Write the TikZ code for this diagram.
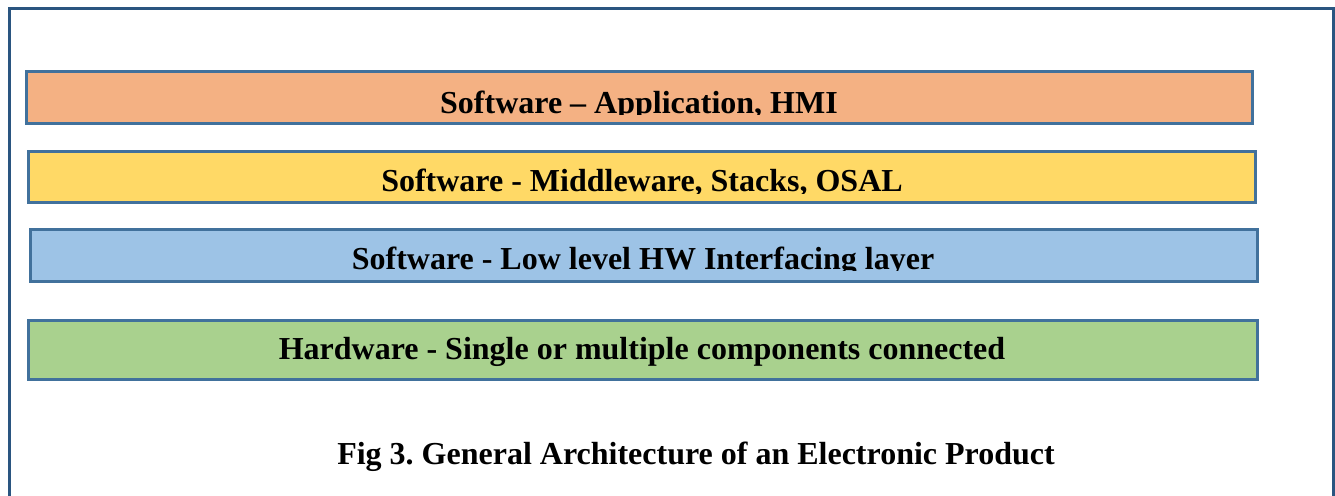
\documentclass[tikz,border=0pt]{standalone}
\usepackage{fontspec}
\setmainfont{Liberation Serif}
\usetikzlibrary{positioning}

\definecolor{framecol}{HTML}{2A5580}
\definecolor{edgecol}{HTML}{41719C}
\definecolor{apporange}{HTML}{F4B183}
\definecolor{midyellow}{HTML}{FFD966}
\definecolor{lowblue}{HTML}{9DC3E6}
\definecolor{hwgreen}{HTML}{A9D18E}

\begin{document}
\frenchspacing
\begin{tikzpicture}[x=1pt, y=-1pt,
                   layer/.style={draw=edgecol, line width=3pt, inner sep=0pt},
                   layertext/.style={anchor=base, inner sep=0pt, font=\fontsize{32}{38}\selectfont\bfseries}]
\clip (0,0) rectangle (1335,495);
% outer frame, open at the bottom
\draw[framecol, line width=3pt] (9,510) -- (9,9) -- (1333,9) -- (1333,510);
% layers
\draw[layer, fill=apporange] (26,71) rectangle (1252,123);
\draw[layer, fill=midyellow] (28,151) rectangle (1255,202);
\draw[layer, fill=lowblue] (30,229) rectangle (1257,281);
\draw[layer, fill=hwgreen] (28,320) rectangle (1257,379);
% texts, clipped as in the text boxes
\begin{scope}
\clip (30,75) rectangle (1250,114);
\node[layertext] (app) at (639,113.5) {Software – Application, HMI};
\end{scope}
\begin{scope}
\clip (30,155) rectangle (1250,193.5);
\node[layertext] (mid) at (642,191.5) {Software - Middleware, Stacks, OSAL};
\end{scope}
\begin{scope}
\clip (30,233) rectangle (1250,270.5);
\node[layertext] (low) at (643,269.5) {Software - Low level HW Interfacing layer};
\end{scope}
\node[layertext] (hw) at (642,359.5) {Hardware - Single or multiple components connected};
% caption
\node[layertext] (caption) at (696,464.5) {Fig 3. General Architecture of an Electronic Product};
\end{tikzpicture}
\end{document}
